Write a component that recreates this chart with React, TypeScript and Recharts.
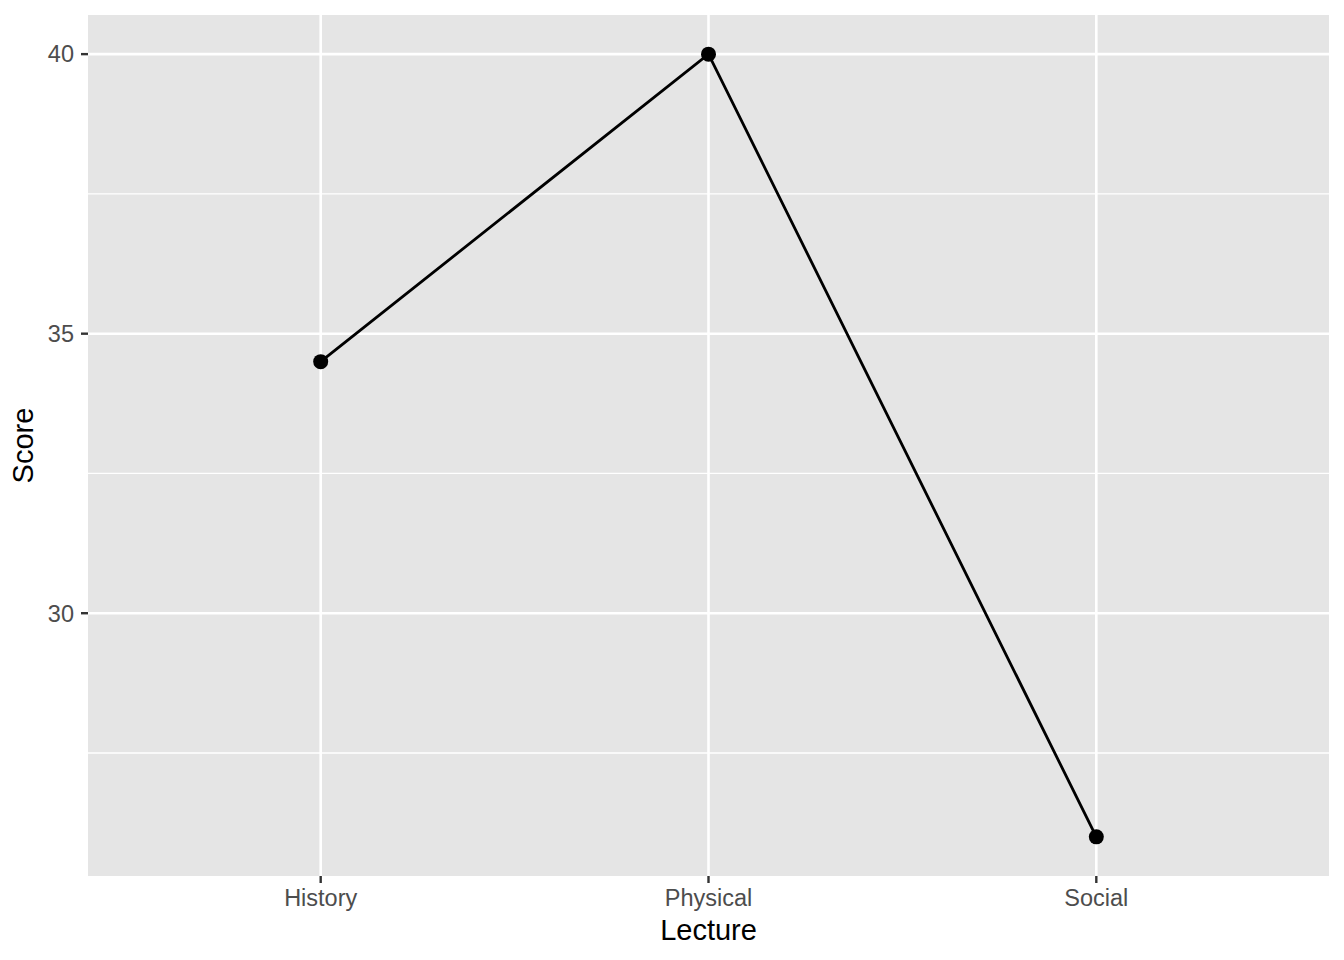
import { CartesianGrid, Line, LineChart, XAxis, YAxis } from "recharts";

const lectures = ["History", "Physical", "Social"];
const scores = [34.5, 40, 26];
const majorTicks = [30, 35, 40];
const minorTicks = [27.5, 32.5, 37.5];
const yDomain = [25.3, 40.7];

const FONT = '"Liberation Sans", Arial, Helvetica, sans-serif';

const data = lectures.map((name, idx) => ({ idx, name, score: scores[idx] }));
const categoryIdx = lectures.map((_, i) => i);

export default function App() {
  return (
    <div style={{ position: "absolute", left: 0, top: 0, fontFamily: FONT }}>
      <style>{"body{margin:0}"}</style>
      <LineChart
        width={1344}
        height={960}
        data={data}
        margin={{ top: 15, right: 15, bottom: 0, left: 0 }}
      >
        <CartesianGrid
          fill="#E5E5E5"
          stroke="#FFFFFF"
          strokeWidth={1.3}
          vertical={false}
          horizontalValues={minorTicks}
        />
        <CartesianGrid
          stroke="#FFFFFF"
          strokeWidth={2.6}
          horizontalValues={majorTicks}
          verticalValues={categoryIdx}
        />
        <XAxis
          dataKey="idx"
          type="number"
          domain={[-0.6, 2.6]}
          ticks={categoryIdx}
          tickFormatter={(i: number) => lectures[i]}
          height={84}
          axisLine={false}
          tickSize={7}
          tickMargin={6}
          tickLine={{ stroke: "#333333", strokeWidth: 2.4 }}
          tick={{ fill: "#4D4D4D", fontSize: 23.5, fontFamily: FONT }}
          label={{
            value: "Lecture",
            position: "insideBottom",
            offset: 20,
            style: { fill: "#000000", fontSize: 29, fontFamily: FONT },
          }}
        />
        <YAxis
          type="number"
          domain={yDomain}
          ticks={majorTicks}
          width={88}
          axisLine={false}
          tickSize={7}
          tickMargin={7}
          tickLine={{ stroke: "#333333", strokeWidth: 2.4 }}
          tick={{ fill: "#4D4D4D", fontSize: 23.5, fontFamily: FONT }}
          label={{
            value: "Score",
            angle: -90,
            position: "insideLeft",
            offset: 23,
            style: { fill: "#000000", fontSize: 29, fontFamily: FONT, textAnchor: "middle" },
          }}
        />
        <Line
          dataKey="score"
          type="linear"
          stroke="#000000"
          strokeWidth={2.8}
          dot={{ r: 7.5, fill: "#000000", stroke: "none" }}
          activeDot={false}
          isAnimationActive={false}
        />
      </LineChart>
    </div>
  );
}
